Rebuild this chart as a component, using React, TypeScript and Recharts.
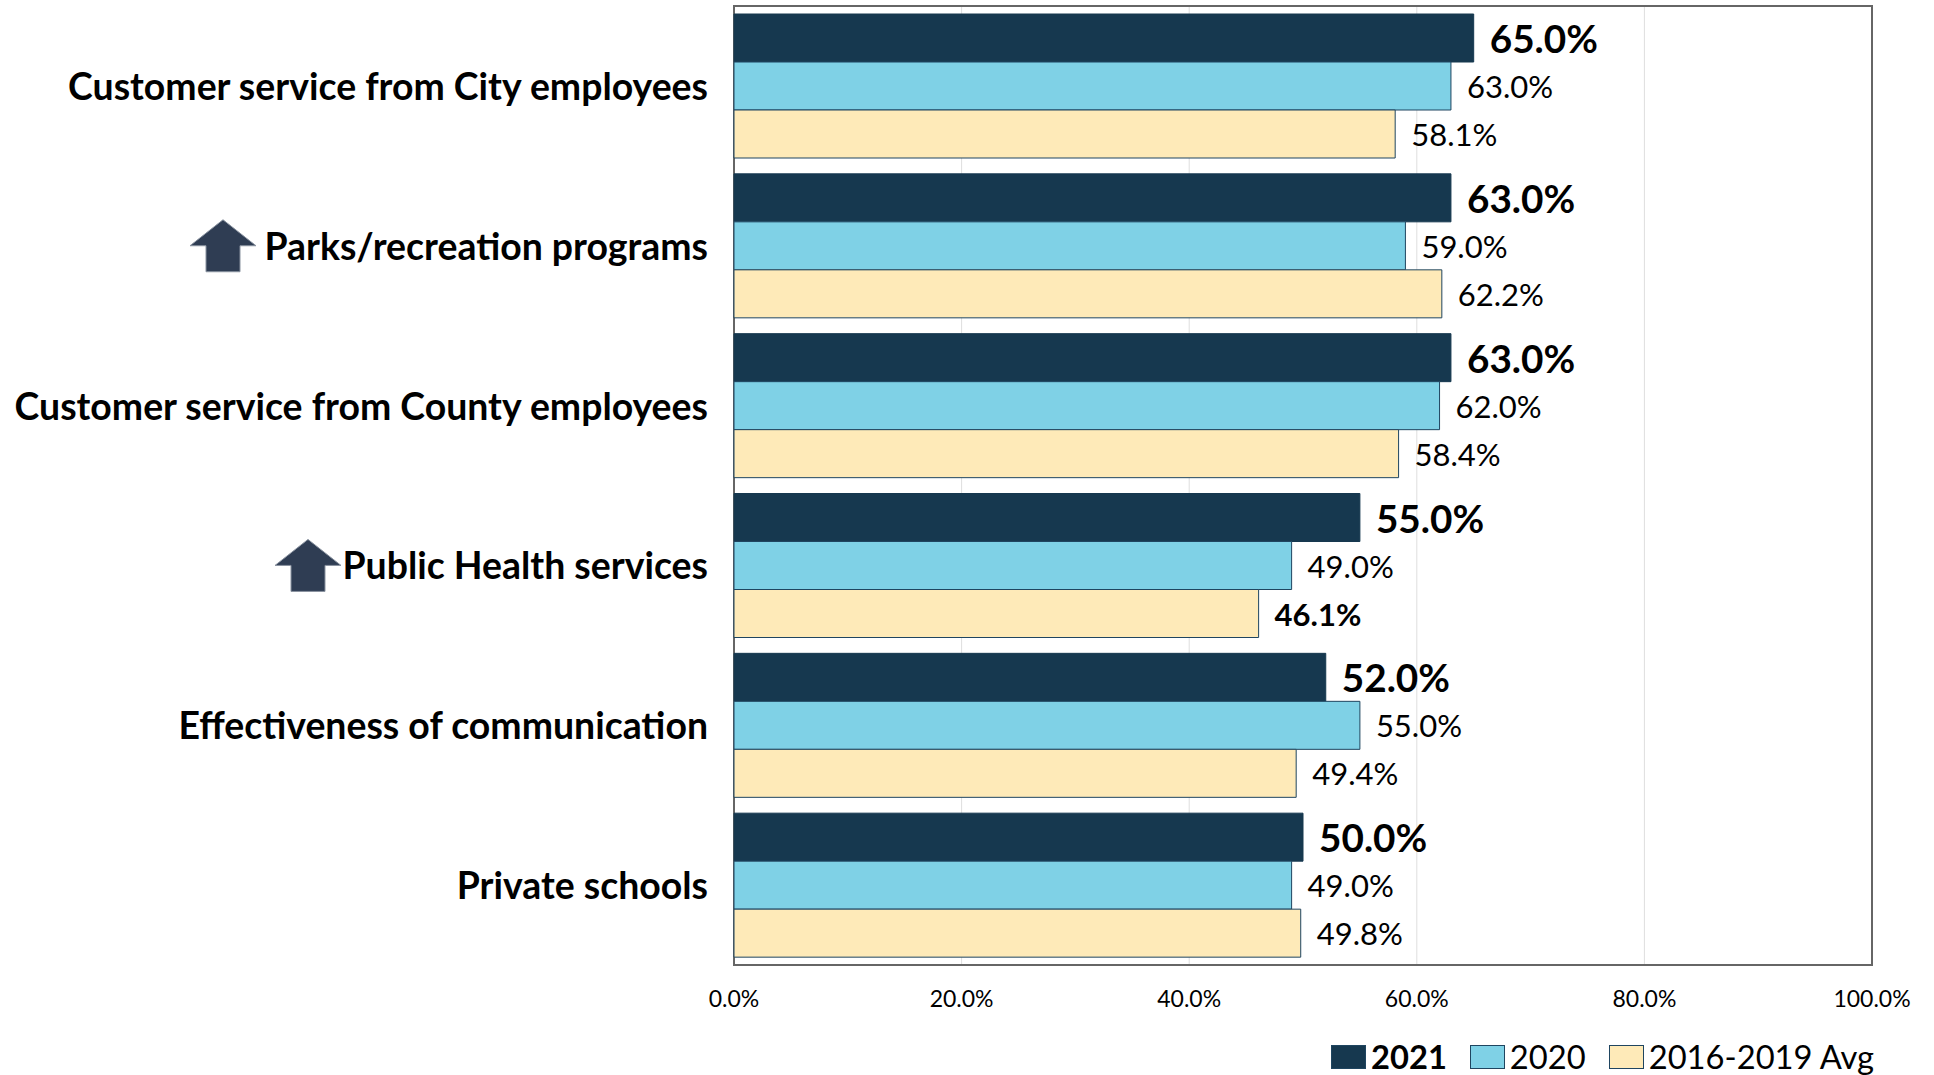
import { Bar, BarChart, CartesianGrid, LabelList, Legend, ReferenceArea, XAxis, YAxis } from "recharts";

const categories = [
  "Customer service from City employees",
  "Parks/recreation programs",
  "Customer service from County employees",
  "Public Health services",
  "Effectiveness of communication",
  "Private schools",
];
const values2021 = [65.0, 63.0, 63.0, 55.0, 52.0, 50.0];
const values2020 = [63.0, 59.0, 62.0, 49.0, 55.0, 49.0];
const valuesAvg = [58.1, 62.2, 58.4, 46.1, 49.4, 49.8];
const xTicks = [0, 20, 40, 60, 80, 100];

const data = categories.map((name, i) => ({ name, y2021: values2021[i], y2020: values2020[i], avg: valuesAvg[i] }));

const FONT = "Lato";
const DARK = "#16384f";
const CYAN = "#7fd1e6";
const CREAM = "#feeab8";
const EDGE = "#1f4560";

// distance from the label's right end to the centre of the up arrow
const arrowOffset: Record<string, number> = {
  "Parks/recreation programs": 485,
  "Public Health services": 400,
};

function CategoryTick({ x, y, payload }: any) {
  const off = arrowOffset[payload.value];
  return (
    <g>
      {off !== undefined && (
        <polygon
          transform={`translate(${x - off},${y})`}
          points="0,-26 33,0 17,0 17,26 -17,26 -17,0 -33,0"
          fill="#2f3d53"
          stroke="#8a93a0"
          strokeWidth={1}
        />
      )}
      <text x={x} y={y} dy={14} textAnchor="end" fontFamily={FONT} fontWeight={700} fontSize={37.4} fill="#000">
        {payload.value}
      </text>
    </g>
  );
}

function valueLabel(big: boolean) {
  return ({ x, y, width, height, value }: any) => {
    const bold = big || value === 46.1;
    return (
      <text
        x={x + width + 16}
        y={y + height / 2}
        dy={big ? 15 : 12}
        fontFamily={FONT}
        fontWeight={bold ? 700 : 400}
        fontSize={big ? 38.7 : 31}
        fill="#000"
      >
        {value.toFixed(1)}%
      </text>
    );
  };
}

function LegendBox() {
  const items = [
    { label: "2021", color: DARK, bold: true },
    { label: "2020", color: CYAN, bold: false },
    { label: "2016-2019 Avg", color: CREAM, bold: false },
  ];
  return (
    <div style={{ display: "flex", alignItems: "center", fontFamily: FONT, fontSize: 32.7, color: "#000", lineHeight: "40px" }}>
      {items.map((it) => (
        <div key={it.label} style={{ display: "flex", alignItems: "center", marginRight: 23 }}>
          <span style={{ width: 33, height: 22, background: it.color, border: `1px solid ${EDGE}`, marginRight: 5, display: "inline-block" }} />
          <span style={{ fontWeight: it.bold ? 700 : 400 }}>{it.label}</span>
        </div>
      ))}
    </div>
  );
}

export default function App() {
  return (
    <div style={{ position: "absolute", left: 0, top: 0, width: 1934, height: 1075, background: "#fff" }}>
      <BarChart
        width={1934}
        height={1075}
        data={data}
        layout="vertical"
        barCategoryGap={8}
        barGap={0}
        margin={{ top: 6, right: 62, bottom: 10, left: 0 }}
      >
        <CartesianGrid horizontal={false} stroke="#dedede" strokeWidth={1} />
        <XAxis
          type="number"
          domain={[0, 100]}
          ticks={xTicks}
          tickFormatter={(v: number) => `${v.toFixed(1)}%`}
          tick={{ fontFamily: FONT, fontSize: 23, fill: "#000" }}
          tickLine={false}
          axisLine={false}
          tickMargin={20}
          height={60}
        />
        <YAxis
          type="category"
          dataKey="name"
          width={734}
          tick={<CategoryTick />}
          tickLine={false}
          axisLine={false}
          interval={0}
          tickMargin={20}
        />
        <ReferenceArea x1={0} x2={100} fillOpacity={0} stroke="#666" strokeWidth={2} ifOverflow="visible" />
        <Bar dataKey="y2021" name="2021" fill={DARK} stroke={DARK} strokeWidth={1} isAnimationActive={false}>
          <LabelList dataKey="y2021" content={valueLabel(true)} />
        </Bar>
        <Bar dataKey="y2020" name="2020" fill={CYAN} stroke={EDGE} strokeWidth={1} isAnimationActive={false}>
          <LabelList dataKey="y2020" content={valueLabel(false)} />
        </Bar>
        <Bar dataKey="avg" name="2016-2019 Avg" fill={CREAM} stroke={EDGE} strokeWidth={1} isAnimationActive={false}>
          <LabelList dataKey="avg" content={valueLabel(false)} />
        </Bar>
        <Legend content={<LegendBox />} wrapperStyle={{ position: "absolute", left: 1331, top: 1037, width: "auto", bottom: "auto" }} height={0} />
      </BarChart>
    </div>
  );
}
